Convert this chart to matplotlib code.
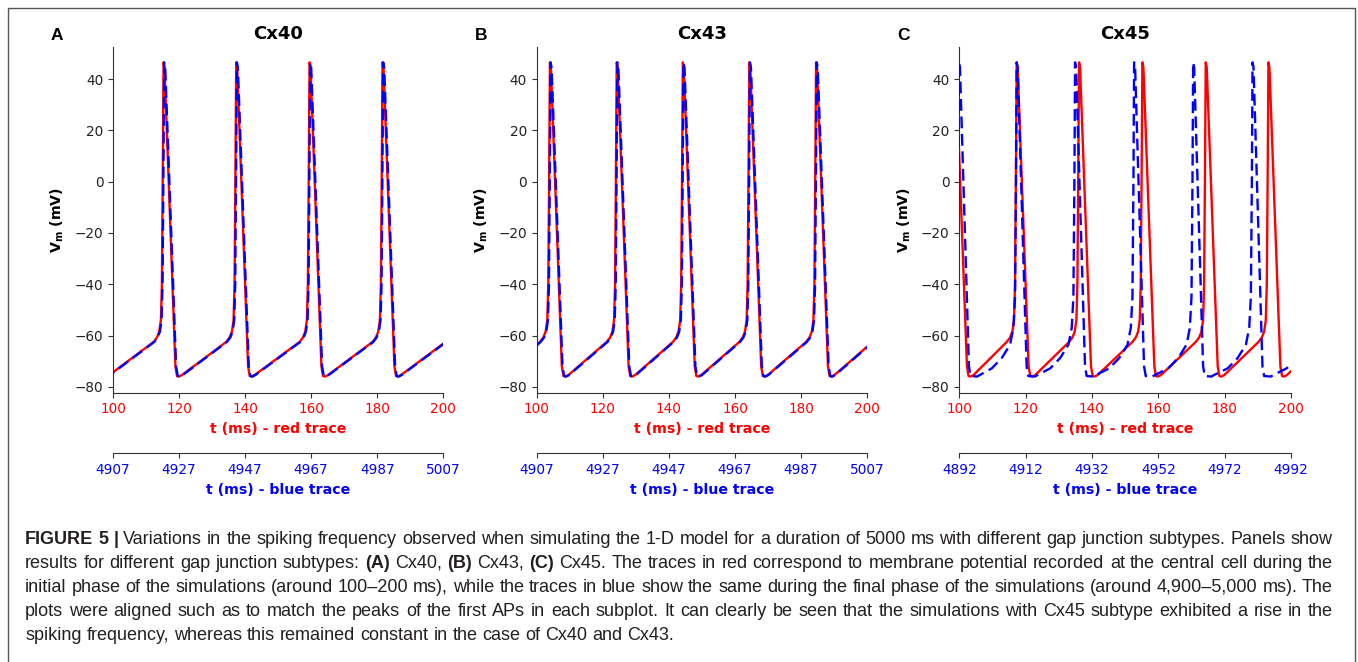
import matplotlib
matplotlib.use('Agg')  # pas d'écran
import matplotlib.pyplot as plt
from matplotlib.lines import Line2D

# ─── Données ─────────────────────────────────────────────────────────────────
PANEL_TITLES = ['Cx40', 'Cx43', 'Cx45']
PANEL_LETTERS = ['A', 'B', 'C']

RED_TICKS = [100, 120, 140, 160, 180, 200]
BLUE_TICKS = [
    [4907, 4927, 4947, 4967, 4987, 5007],
    [4907, 4927, 4947, 4967, 4987, 5007],
    [4892, 4912, 4932, 4952, 4972, 4992],
]
Y_TICKS = [-80, -60, -40, -20, 0, 20, 40]

# instants des pics de PA (ms) ; les premiers/derniers tombent hors fenêtre
CX40_RED_PEAKS = [93.3, 115.3, 137.3, 159.5, 181.6, 203.7]
CX40_BLUE_PEAKS = [4900.5, 4922.5, 4944.5, 4966.7, 4988.8, 5010.9]
CX43_RED_PEAKS = [83.9, 104.0, 124.2, 144.2, 164.3, 184.5, 204.6]
CX43_BLUE_PEAKS = [4891.1, 4911.2, 4931.4, 4951.4, 4971.5, 4991.7, 5011.8]
CX45_RED_PEAKS = [98.7, 117.3, 136.1, 155.2, 174.3, 193.2, 212.2]
CX45_BLUE_PEAKS = [4891.9, 4909.3, 4926.9, 4944.7, 4962.5, 4980.4, 4998.2]

# forme d'un potentiel d'action autour du pic (décalage ms, mV)
SPIKE_DT = [-3.0, -2.0, -1.3, -0.8, -0.5, -0.25, 0.0, 0.3, 3.6, 4.1, 4.7, 5.6]
SPIKE_MV = [-62.5, -60.8, -58.5, -54.0, -40.0, 0.0, 46.5, 44.5, -72.0, -75.8, -76.0, -75.4]
# PA de la trace bleue Cx45 (plateau plus long, rampe plus raide)
FAST_DT = [-7.5, -4.5, -2.0, -1.0, -0.5, -0.2, 0.0, 0.3, 3.0, 3.5, 5.5, 6.3]
FAST_MV = [-72.8, -68.8, -63.6, -57.0, -45.0, 0.0, 46.5, 44.5, -72.0, -75.8, -76.0, -75.4]

CAPTION = [
    [('FIGURE 5 |', True), ('Variations in the spiking frequency observed when simulating the 1-D model '
                            'for a duration of 5000 ms with different gap junction subtypes. Panels show', False)],
    [('results for different gap junction subtypes:', False), ('(A)', True), ('Cx40,', False),
     ('(B)', True), ('Cx43,', False), ('(C)', True),
     ('Cx45. The traces in red correspond to membrane potential recorded at the central cell during the', False)],
    [('initial phase of the simulations (around 100\u2013200 ms), while the traces in blue show the same '
      'during the final phase of the simulations (around 4,900\u20135,000 ms). The', False)],
    [('plots were aligned such as to match the peaks of the first APs in each subplot. It can clearly be '
      'seen that the simulations with Cx45 subtype exhibited a rise in the', False)],
    [('spiking frequency, whereas this remained constant in the case of Cx40 and Cx43.', False)],
]


def build_trace(peaks, dt, mv):
    """Enchaîne la forme du PA à chaque pic ; les rampes sont les segments entre deux PA."""
    t, v = [], []
    for p in peaks:
        t.extend(p + d for d in dt)
        v.extend(mv)
    return t, v


TRACES = [
    (build_trace(CX40_RED_PEAKS, SPIKE_DT, SPIKE_MV), build_trace(CX40_BLUE_PEAKS, SPIKE_DT, SPIKE_MV)),
    (build_trace(CX43_RED_PEAKS, SPIKE_DT, SPIKE_MV), build_trace(CX43_BLUE_PEAKS, SPIKE_DT, SPIKE_MV)),
    (build_trace(CX45_RED_PEAKS, SPIKE_DT, SPIKE_MV), build_trace(CX45_BLUE_PEAKS, FAST_DT, FAST_MV)),
]

# ─── Mise en page ────────────────────────────────────────────────────────────
W, H = 1358, 662
fig = plt.figure(figsize=(W / 100, H / 100), dpi=100)

ax_left = [113, 536.7, 959.3]
ax_width = [330.3, 330.6, 331.7]
ax_top, ax_bottom = 47, 392.7

for i in range(3):
    ax = fig.add_axes([ax_left[i] / W, 1 - ax_bottom / H, ax_width[i] / W, (ax_bottom - ax_top) / H])
    (tr, vr), (tb, vb) = TRACES[i]
    ax.plot(tr, vr, color='red', lw=1.7)
    ax.set_xlim(100, 200)
    ax.set_ylim(-82.3, 52.5)
    ax.set_xticks(RED_TICKS)
    ax.set_yticks(Y_TICKS)
    ax.tick_params(axis='x', labelcolor='red', labelsize=9.8, color='#333')
    ax.tick_params(axis='y', labelcolor='#222', labelsize=9.8, color='#333')
    ax.set_xlabel('t (ms) - red trace', color='red', fontweight='bold', fontsize=10.2, labelpad=4)
    ax.set_ylabel(r'$\mathbf{V_m}$ (mV)', fontweight='bold', fontsize=10.2, labelpad=6)
    ax.set_title(PANEL_TITLES[i], fontweight='bold', fontsize=13, pad=6)
    for s in ['top', 'right']:
        ax.spines[s].set_visible(False)
    for s in ['left', 'bottom']:
        ax.spines[s].set_color('#333')

    # axe secondaire (trace bleue), placé sous l'axe principal
    ax2 = ax.twiny()
    ax2.plot(tb, vb, color='blue', lw=1.7, ls=(0, (5.0, 2.4)))
    ax2.set_xlim(BLUE_TICKS[i][0], BLUE_TICKS[i][-1])
    ax2.set_xticks(BLUE_TICKS[i])
    ax2.xaxis.set_ticks_position('bottom')
    ax2.xaxis.set_label_position('bottom')
    ax2.spines['bottom'].set_position(('outward', 43.6))
    for s in ['top', 'right', 'left']:
        ax2.spines[s].set_visible(False)
    ax2.spines['bottom'].set_color('#333')
    ax2.tick_params(axis='x', labelcolor='blue', labelsize=9.8, color='#333')
    ax2.set_xlabel('t (ms) - blue trace', color='blue', fontweight='bold', fontsize=10.2, labelpad=4)

    fig.text((ax_left[i] - 56) / W, 1 - 35 / H, PANEL_LETTERS[i], fontsize=12.5, fontweight='bold',
             family=['Liberation Sans', 'DejaVu Sans'], ha='center', va='center')

# cadre gris autour de la figure
fig.add_artist(Line2D([8 / W, 8 / W, 1355 / W, 1355 / W], [0, 1 - 8 / H, 1 - 8 / H, 0],
                      transform=fig.transFigure, color='#555', lw=1.0))

# ─── Légende (texte justifié, mot par mot) ───────────────────────────────────
CAP_FONT = ['Liberation Sans', 'DejaVu Sans']
CAP_SIZE = 13.0
renderer = fig.canvas.get_renderer()


def text_width(s, bold=False):
    t = fig.text(0, 0, s, fontsize=CAP_SIZE, family=CAP_FONT, fontweight='bold' if bold else 'normal')
    w = t.get_window_extent(renderer).width
    t.remove()
    return w


space_px = text_width('a a') - text_width('aa')
x0, x1 = 25, 1333
line_y = [544, 568, 592, 616, 640]  # lignes de base (px depuis le haut)

for k, runs in enumerate(CAPTION):
    words = [(w, b) for txt, b in runs for w in txt.split()]
    arts, widths = [], []
    for w, b in words:
        t = fig.text(0, 1 - line_y[k] / H, w, fontsize=CAP_SIZE, family=CAP_FONT,
                     fontweight='bold' if b else 'normal', color='#231f20', va='baseline')
        arts.append(t)
        widths.append(t.get_window_extent(renderer).width)
    if k < len(CAPTION) - 1:
        gap = (x1 - x0 - sum(widths)) / (len(words) - 1)
    else:
        gap = space_px
    x = x0
    for t, w in zip(arts, widths):
        t.set_x(x / W)
        x += w + gap

fig.savefig('out.png', dpi=100)
